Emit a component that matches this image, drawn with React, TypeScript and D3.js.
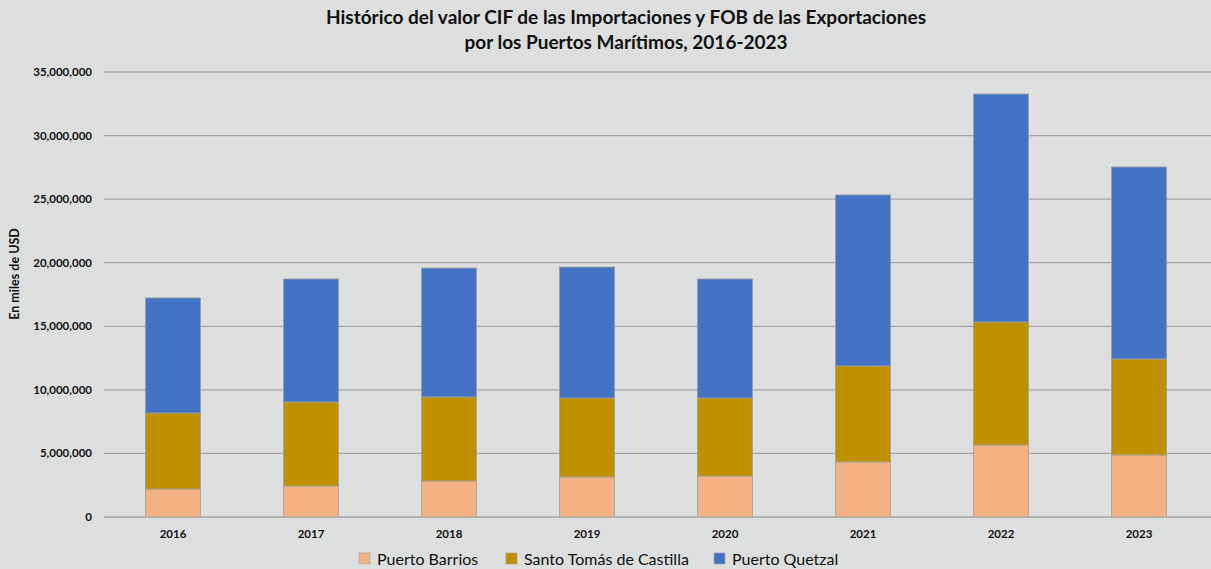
import * as d3 from 'd3';
import { useEffect, useRef } from 'react';

const years = ['2016', '2017', '2018', '2019', '2020', '2021', '2022', '2023'];
const barrios = [2200000, 2440000, 2830000, 3150000, 3220000, 4330000, 5660000, 4880000];
const santoTomas = [5980000, 6610000, 6610000, 6210000, 6140000, 7550000, 9680000, 7550000];
const quetzal = [9050000, 9670000, 10140000, 10300000, 9360000, 13450000, 17930000, 15100000];
const seriesNames = ['Puerto Barrios', 'Santo Tomás de Castilla', 'Puerto Quetzal'];
const seriesColors = ['#f4b183', '#bf9000', '#4472c4'];
const yTicks = [0, 5000000, 10000000, 15000000, 20000000, 25000000, 30000000, 35000000];

const W = 1211, H = 569;
const font = 'Lato, "Open Sans", sans-serif';

export default function App() {
  const ref = useRef<SVGSVGElement>(null);

  useEffect(() => {
    const svg = d3.select(ref.current);
    svg.selectAll('*').remove();

    const left = 104, right = 1208, top = 72, bottom = 517;

    const x = d3.scaleBand().domain(years).range([left, right]).paddingInner(0.6).paddingOuter(0.3);
    const y = d3.scaleLinear().domain([0, 35000000]).range([bottom, top]);

    svg.append('rect').attr('width', W).attr('height', H).attr('fill', '#dcdfde');

    // title
    const title = svg.append('text')
      .attr('text-anchor', 'middle')
      .attr('font-family', font)
      .attr('font-weight', 'bold')
      .attr('font-size', 19)
      .attr('fill', '#111');
    title.append('tspan').attr('x', 626).attr('y', 24)
      .text('Histórico del valor CIF de las Importaciones y FOB de las Exportaciones');
    title.append('tspan').attr('x', 626).attr('y', 49)
      .text('por los Puertos Marítimos, 2016-2023');

    // gridlines
    svg.append('g').selectAll('line').data(yTicks).join('line')
      .attr('x1', left).attr('x2', W)
      .attr('y1', d => y(d)).attr('y2', d => y(d))
      .attr('stroke', '#a6a6a6').attr('stroke-width', 1.3);

    svg.append('g').selectAll('text').data(yTicks).join('text')
      .attr('x', 92).attr('y', d => y(d) + 4)
      .attr('text-anchor', 'end')
      .attr('font-family', font).attr('font-weight', 'bold').attr('font-size', 11.5)
      .attr('fill', '#111')
      .text(d => d3.format(',')(d));

    svg.append('text')
      .attr('transform', 'translate(19,274) rotate(-90)')
      .attr('text-anchor', 'middle')
      .attr('font-family', font).attr('font-weight', 'bold').attr('font-size', 12.5)
      .attr('fill', '#111')
      .text('En miles de USD');

    // stacked bars
    const table = years.map((yr, i) => ({ year: yr, b: barrios[i], s: santoTomas[i], q: quetzal[i] }));
    const stack = d3.stack<any>().keys(['b', 's', 'q'])(table);

    svg.append('g').selectAll('g').data(stack).join('g')
      .attr('fill', (_d, i) => seriesColors[i])
      .selectAll('rect').data(d => d).join('rect')
      .attr('x', d => x(d.data.year)!)
      .attr('width', x.bandwidth())
      .attr('y', d => y(d[1]))
      .attr('height', d => y(d[0]) - y(d[1]))
      .attr('stroke', '#a0a0a0').attr('stroke-width', 0.8);

    svg.append('g').selectAll('text').data(years).join('text')
      .attr('x', d => x(d)! + x.bandwidth() / 2).attr('y', 538)
      .attr('text-anchor', 'middle')
      .attr('font-family', font).attr('font-weight', 'bold').attr('font-size', 11.5)
      .attr('fill', '#111')
      .text(d => d);

    // legend
    const legendX = [359, 506, 714];
    const lg = svg.append('g');
    seriesNames.forEach((name, i) => {
      lg.append('rect').attr('x', legendX[i]).attr('y', 553).attr('width', 11).attr('height', 11)
        .attr('fill', seriesColors[i]).attr('stroke', '#a0a0a0').attr('stroke-width', 0.6);
      lg.append('text').attr('x', legendX[i] + 18).attr('y', 565)
        .attr('font-family', font).attr('font-size', 16).attr('fill', '#111')
        .text(name);
    });
  }, []);

  return (
    <svg ref={ref} width={W} height={H} style={{ display: 'block', position: 'absolute', left: 0, top: 0 }} />
  );
}
